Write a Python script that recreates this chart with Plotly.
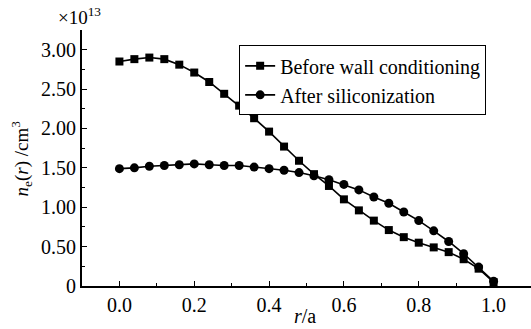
import plotly.graph_objects as go

r_a = [0.00, 0.04, 0.08, 0.12, 0.16, 0.20, 0.24, 0.28, 0.32, 0.36, 0.40, 0.44, 0.48,
       0.52, 0.56, 0.60, 0.64, 0.68, 0.72, 0.76, 0.80, 0.84, 0.88, 0.92, 0.96, 1.00]
before_wall = [2.85, 2.88, 2.90, 2.88, 2.81, 2.71, 2.59, 2.44, 2.29, 2.13, 1.96, 1.77, 1.59,
               1.42, 1.27, 1.10, 0.96, 0.83, 0.71, 0.62, 0.55, 0.49, 0.43, 0.34, 0.22, 0.05]
after_si = [1.49, 1.50, 1.52, 1.53, 1.54, 1.55, 1.54, 1.53, 1.53, 1.51, 1.49, 1.47, 1.44,
            1.40, 1.35, 1.29, 1.22, 1.13, 1.05, 0.94, 0.83, 0.70, 0.565, 0.41, 0.24, 0.06]
x_ticks = [0.0, 0.2, 0.4, 0.6, 0.8, 1.0]
x_ticktext = ["0.0", "0.2", "0.4", "0.6", "0.8", "1.0"]
y_ticks = [0, 0.5, 1.0, 1.5, 2.0, 2.5, 3.0]
y_ticktext = ["0", "0.50", "1.00", "1.50", "2.00", "2.50", "3.00"]

FONT = "Liberation Serif, Times New Roman, serif"

fig = go.Figure()
fig.add_trace(go.Scatter(x=r_a, y=before_wall, mode="lines+markers",
                         name="Before wall conditioning",
                         line=dict(color="black", width=1.6),
                         marker=dict(symbol="square", size=8, color="black")))
fig.add_trace(go.Scatter(x=r_a, y=after_si, mode="lines+markers",
                         name="After siliconization",
                         line=dict(color="black", width=1.6),
                         marker=dict(symbol="circle", size=9, color="black")))

fig.update_layout(
    width=531, height=329,
    margin=dict(l=82, r=0, t=30, b=43),
    paper_bgcolor="white", plot_bgcolor="white",
    font=dict(family=FONT, size=20, color="black"),
    showlegend=True,
    legend=dict(x=0.35, y=0.94, xanchor="left", yanchor="top",
                bordercolor="black", borderwidth=1, bgcolor="white",
                font=dict(family=FONT, size=20, color="black"),
                tracegroupgap=0, itemwidth=30),
    xaxis=dict(range=[-0.1, 1.1], tickvals=x_ticks, ticktext=x_ticktext,
               ticks="inside", ticklen=5, tickwidth=1, tickcolor="black",
               tickfont=dict(family=FONT, size=20),
               showline=True, linecolor="black", linewidth=2,
               showgrid=False, zeroline=False,
               minor=dict(ticks="inside", dtick=0.1, ticklen=3, tickcolor="black", showgrid=False)),
    yaxis=dict(range=[0, 3.25], tickvals=y_ticks, ticktext=y_ticktext,
               ticks="inside", ticklen=5, tickwidth=1, tickcolor="black",
               tickfont=dict(family=FONT, size=20),
               showline=True, linecolor="black", linewidth=2,
               showgrid=False, zeroline=False,
               minor=dict(ticks="inside", dtick=0.25, ticklen=3, tickcolor="black", showgrid=False)),
)

# axis titles
fig.add_annotation(text="<i>r</i>/a", xref="paper", yref="paper",
                   x=0.497, y=-0.168, xanchor="center", yanchor="bottom",
                   showarrow=False, font=dict(family=FONT, size=20, color="black"))
fig.add_annotation(text="<i>n</i><sub>e</sub>(<i>r</i>) /cm<sup>3</sup>", xref="paper", yref="paper",
                   x=-0.135, y=0.5, xanchor="center", yanchor="middle", textangle=-90,
                   showarrow=False, font=dict(family=FONT, size=19, color="black"))
fig.add_annotation(text="×10<sup>13</sup>", xref="paper", yref="paper",
                   x=-0.005, y=1.0, xanchor="center", yanchor="bottom", yshift=0,
                   showarrow=False, font=dict(family=FONT, size=19, color="black"))

fig.write_html("out.html")
